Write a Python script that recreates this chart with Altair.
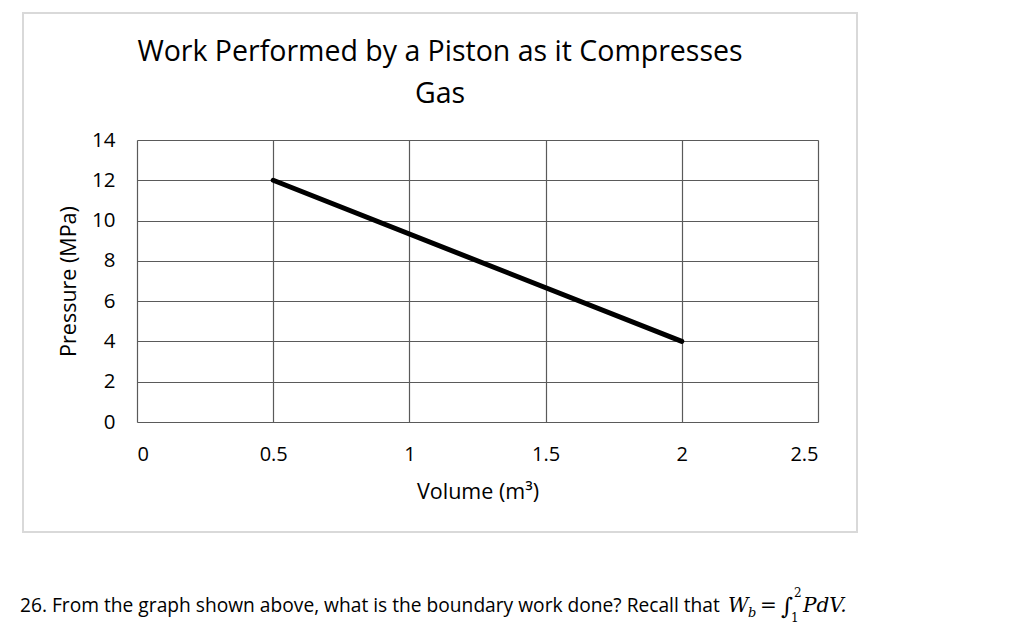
import altair as alt
import pandas as pd

# data
volume = [0.5, 2.0]
pressure = [12, 4]
x_ticks = [0, 0.5, 1, 1.5, 2, 2.5]
y_ticks = [0, 2, 4, 6, 8, 10, 12, 14]
title_text = "Work Performed by a Piston as it Compresses\nGas"
question = "26. From the graph shown above, what is the boundary work done? Recall that"

FONT = "Open Sans"
W, H = 681, 282
PL, PT = 137, 140

df = pd.DataFrame({"V": volume, "P": pressure})
one = pd.DataFrame({"a": [0]})

base = alt.Chart(df)

line = base.mark_line(color="black", strokeWidth=5, strokeCap="round").encode(
    x=alt.X("V:Q", scale=alt.Scale(domain=[0, 2.5], nice=False),
            axis=alt.Axis(values=x_ticks, format=".1~f", title="Volume (m³)",
                          grid=True, gridColor="#5a5a5a", gridWidth=1.2,
                          ticks=False, domain=False, labelPadding=22,
                          labelFontSize=20, labelFont=FONT, labelColor="#000",
                          titleFont=FONT, titleFontSize=21.5, titleFontWeight="normal",
                          titleColor="#000", titlePadding=17)),
    y=alt.Y("P:Q", scale=alt.Scale(domain=[0, 14], nice=False),
            axis=alt.Axis(values=y_ticks, title="Pressure (MPa)",
                          grid=True, gridColor="#5a5a5a", gridWidth=1.2,
                          ticks=False, domain=False, labelPadding=22,
                          labelFontSize=20.5, labelFont=FONT, labelColor="#000",
                          titleFont=FONT, titleFontSize=21.5, titleFontWeight="normal",
                          titleColor="#000", titlePadding=11)),
)

frame = alt.Chart(one).mark_rect(fill=None, stroke="#d9d9d9", strokeWidth=2).encode(
    x=alt.value(23 - PL), x2=alt.value(857 - PL),
    y=alt.value(13 - PT), y2=alt.value(532 - PT),
)

title = alt.Chart(one).mark_text(align="center", baseline="alphabetic", font=FONT,
                                 fontSize=28.5, color="#000", lineBreak="\n",
                                 lineHeight=42).encode(
    x=alt.value(440 - PL), y=alt.value(61 - PT), text=alt.value(title_text))

q_text = alt.Chart(one).mark_text(align="left", baseline="alphabetic", font=FONT,
                                  fontSize=19.2, color="#000").encode(
    x=alt.value(20 - PL), y=alt.value(612 - PT), text=alt.value(question))

math_parts = [
    ("W", 728, 612, 20, "italic"),
    ("b", 748, 617, 13, "italic"),
    ("=", 760, 612, 20, "normal"),
    ("∫", 781, 614, 23, "normal"),
    ("2", 794, 597, 12, "normal"),
    ("1", 791, 622, 12, "normal"),
    ("PdV.", 803, 612, 20, "italic"),
]
math_layers = [
    alt.Chart(one).mark_text(align="left", baseline="alphabetic", font="DejaVu Serif",
                             fontSize=fs, fontStyle=st, color="#000").encode(
        x=alt.value(x - PL), y=alt.value(y - PT), text=alt.value(t))
    for (t, x, y, fs, st) in math_parts
]

chart = alt.layer(frame, line, title, q_text, *math_layers).properties(
    width=W, height=H,
    autosize=alt.AutoSizeParams(type="none"),
    padding={"left": PL, "top": PT, "right": 1024 - PL - W, "bottom": 627 - PT - H},
).configure_view(stroke="#5a5a5a", strokeWidth=1.5).configure(background="white")

chart.save("out.html", embed_options={"renderer": "svg", "actions": False})
